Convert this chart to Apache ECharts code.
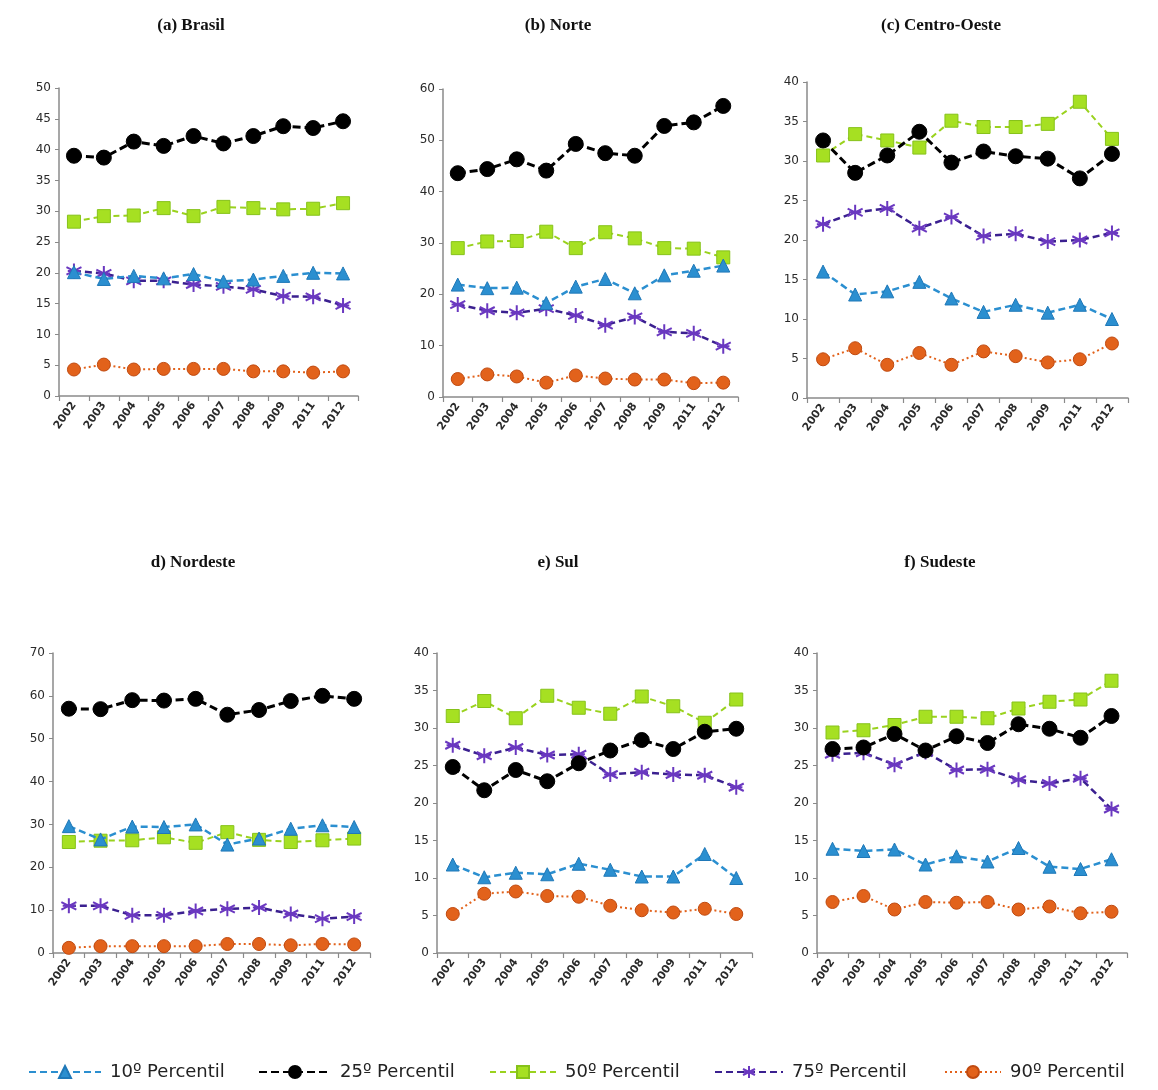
<!DOCTYPE html>
<html>
<head>
<meta charset="utf-8">
<script src="https://cdn.jsdelivr.net/npm/echarts@6/dist/echarts.min.js"></script>
<style>
  html, body { margin: 0; padding: 0; background: #fff; }
  #chart { width: 1158px; height: 1090px; }
</style>
</head>
<body>
<div id="chart"></div>
<script>
// Years on the horizontal axis (2010 is not in the survey)
const years = ['2002', '2003', '2004', '2005', '2006', '2007', '2008', '2009', '2011', '2012'];

// Percentile names
const seriesNames = ['10º Percentil', '25º Percentil', '50º Percentil', '75º Percentil', '90º Percentil'];

// (a) Brasil
const brasilP10 = [20.1, 19.0, 19.5, 19.1, 19.8, 18.6, 18.9, 19.5, 20.0, 19.9];
const brasilP25 = [39.0, 38.7, 41.3, 40.6, 42.2, 41.0, 42.2, 43.8, 43.5, 44.6];
const brasilP50 = [28.3, 29.2, 29.3, 30.5, 29.2, 30.7, 30.5, 30.3, 30.4, 31.3];
const brasilP75 = [20.3, 19.9, 18.7, 18.7, 18.1, 17.8, 17.3, 16.2, 16.1, 14.7];
const brasilP90 = [4.3, 5.1, 4.3, 4.4, 4.4, 4.4, 4.0, 4.0, 3.8, 4.0];

// (b) Norte
const norteP10 = [21.9, 21.2, 21.3, 18.3, 21.5, 23.0, 20.2, 23.7, 24.6, 25.6];
const norteP25 = [43.6, 44.4, 46.3, 44.1, 49.3, 47.5, 47.0, 52.8, 53.5, 56.7];
const norteP50 = [29.0, 30.3, 30.4, 32.2, 29.0, 32.1, 30.9, 29.0, 28.9, 27.2];
const norteP75 = [18.0, 16.8, 16.4, 17.2, 15.9, 14.0, 15.6, 12.7, 12.4, 9.9];
const norteP90 = [3.5, 4.4, 4.0, 2.8, 4.2, 3.6, 3.4, 3.4, 2.7, 2.8];

// (c) Centro-Oeste
const centroP10 = [16.0, 13.1, 13.5, 14.7, 12.6, 10.9, 11.8, 10.8, 11.8, 10.0];
const centroP25 = [32.6, 28.5, 30.7, 33.7, 29.8, 31.2, 30.6, 30.3, 27.8, 30.9];
const centroP50 = [30.7, 33.4, 32.6, 31.7, 35.1, 34.3, 34.3, 34.7, 37.5, 32.8];
const centroP75 = [22.0, 23.5, 24.0, 21.5, 22.9, 20.5, 20.8, 19.8, 20.0, 20.9];
const centroP90 = [4.9, 6.3, 4.2, 5.7, 4.2, 5.9, 5.3, 4.5, 4.9, 6.9];

// d) Nordeste
const nordesteP10 = [29.6, 26.5, 29.5, 29.4, 30.0, 25.3, 26.7, 29.0, 29.8, 29.4];
const nordesteP25 = [57.0, 56.9, 59.0, 58.9, 59.3, 55.6, 56.7, 58.8, 60.0, 59.3];
const nordesteP50 = [25.9, 26.2, 26.3, 27.0, 25.7, 28.2, 26.4, 25.9, 26.3, 26.7];
const nordesteP75 = [11.0, 11.0, 8.8, 8.8, 9.8, 10.3, 10.6, 9.1, 8.0, 8.5];
const nordesteP90 = [1.2, 1.6, 1.6, 1.6, 1.6, 2.1, 2.1, 1.8, 2.1, 2.0];

// e) Sul
const sulP10 = [11.8, 10.1, 10.7, 10.5, 11.9, 11.1, 10.2, 10.2, 13.2, 10.0];
const sulP25 = [24.8, 21.7, 24.4, 22.9, 25.3, 27.0, 28.4, 27.2, 29.5, 29.9];
const sulP50 = [31.6, 33.6, 31.3, 34.3, 32.7, 31.9, 34.2, 32.9, 30.7, 33.8];
const sulP75 = [27.7, 26.3, 27.4, 26.4, 26.5, 23.8, 24.1, 23.8, 23.7, 22.1];
const sulP90 = [5.2, 7.9, 8.2, 7.6, 7.5, 6.3, 5.7, 5.4, 5.9, 5.2];

// f) Sudeste
const sudesteP10 = [13.9, 13.6, 13.8, 11.8, 12.9, 12.2, 14.0, 11.5, 11.2, 12.5];
const sudesteP25 = [27.2, 27.4, 29.2, 27.0, 28.9, 28.0, 30.5, 29.9, 28.7, 31.6];
const sudesteP50 = [29.4, 29.7, 30.4, 31.5, 31.5, 31.3, 32.6, 33.5, 33.8, 36.3];
const sudesteP75 = [26.5, 26.7, 25.1, 26.8, 24.4, 24.5, 23.1, 22.6, 23.3, 19.2];
const sudesteP90 = [6.8, 7.6, 5.8, 6.8, 6.7, 6.8, 5.8, 6.2, 5.3, 5.5];

// Panel titles and y-axis ranges
const panelTitles = ['(a) Brasil', '(b) Norte', '(c) Centro-Oeste', 'd) Nordeste', 'e) Sul', 'f) Sudeste'];
const yMax = [50, 60, 40, 70, 40, 40];
const yStep = [5, 10, 5, 10, 5, 5];

const panelData = [
  [brasilP10, brasilP25, brasilP50, brasilP75, brasilP90],
  [norteP10, norteP25, norteP50, norteP75, norteP90],
  [centroP10, centroP25, centroP50, centroP75, centroP90],
  [nordesteP10, nordesteP25, nordesteP50, nordesteP75, nordesteP90],
  [sulP10, sulP25, sulP50, sulP75, sulP90],
  [sudesteP10, sudesteP25, sudesteP50, sudesteP75, sudesteP90]
];

// Plot rectangles for the six panels
const grids = [
  { left: 59,  top: 88,  width: 299, height: 308 },
  { left: 443, top: 89,  width: 295, height: 308 },
  { left: 807, top: 82,  width: 321, height: 316 },
  { left: 53,  top: 653, width: 317, height: 300 },
  { left: 437, top: 653, width: 315, height: 300 },
  { left: 817, top: 653, width: 310, height: 300 }
];
const titlePos = [
  { x: 186, y: 21 }, { x: 553, y: 21 }, { x: 936, y: 21 },
  { x: 188, y: 558 }, { x: 553, y: 558 }, { x: 935, y: 558 }
];

const asterisk = 'path://M10,0L10,20M1.5,5L18.5,15M1.5,15L18.5,5M3,10L17,10';

// Visual style of each percentile line
const styles = [
  { symbol: 'triangle', size: 13, color: '#2b8fd0', border: '#1f78b8', line: '#2b8fd0', width: 2.5, type: [7, 4] },
  { symbol: 'circle',   size: 15, color: '#000000', border: '#000000', line: '#000000', width: 3,   type: [8, 4] },
  { symbol: 'rect',     size: 13, color: '#a6e022', border: '#86c21a', line: '#9ad21e', width: 2,   type: [6, 4] },
  { symbol: asterisk,   size: 15, color: '#7a45d0', border: '#6a38c0', line: '#3b2090', width: 2.5, type: [7, 4] },
  { symbol: 'circle',   size: 13, color: '#e2621b', border: '#c04a10', line: '#e2621b', width: 2,   type: [2, 3] }
];

const axisFont = 'DejaVu Sans';

const option = {
  animation: false,
  backgroundColor: '#ffffff',
  title: panelTitles.map((t, i) => ({
    text: t,
    left: titlePos[i].x,
    top: titlePos[i].y,
    textAlign: 'center',
    textVerticalAlign: 'middle',
    textStyle: { fontFamily: 'Liberation Serif', fontWeight: 'bold', fontSize: 17, color: '#111' }
  })),
  grid: grids.map(g => Object.assign({ containLabel: false }, g)),
  xAxis: grids.map((g, i) => ({
    type: 'category',
    gridIndex: i,
    data: years,
    boundaryGap: true,
    axisLine: { lineStyle: { color: '#8a8a8a', width: 1.5 } },
    axisTick: { show: true, length: 5, lineStyle: { color: '#8a8a8a', width: 1.2 } },
    axisLabel: { rotate: 55, fontSize: 11, fontWeight: 'bold', fontFamily: axisFont, color: '#2a2a2a', margin: 7, interval: 0 },
    splitLine: { show: false }
  })),
  yAxis: grids.map((g, i) => ({
    type: 'value',
    gridIndex: i,
    min: 0,
    max: yMax[i],
    interval: yStep[i],
    axisLine: { show: true, lineStyle: { color: '#8a8a8a', width: 1.5 } },
    axisTick: { show: true, length: 4, lineStyle: { color: '#8a8a8a' } },
    axisLabel: { fontSize: 12, fontFamily: axisFont, color: '#2a2a2a', margin: 8 },
    splitLine: { show: false }
  })),
  legend: seriesNames.map((n, k) => ({
    data: [n],
    left: [28, 258, 489, 714, 944][k],
    top: 1063,
    itemWidth: [72, 72, 66, 68, 56][k],
    itemHeight: 15,
    itemGap: 0,
    padding: 0,
    selectedMode: false,
    textStyle: { fontFamily: 'DejaVu Sans', fontSize: 18, color: '#222', padding: [0, 0, 0, 4] }
  })),
  series: []
};

panelData.forEach((sets, i) => {
  sets.forEach((vals, k) => {
    const s = styles[k];
    option.series.push({
      name: seriesNames[k],
      type: 'line',
      xAxisIndex: i,
      yAxisIndex: i,
      data: vals,
      symbol: s.symbol,
      symbolSize: s.size,
      showAllSymbol: true,
      z: 10 - k,
      lineStyle: { color: s.line, width: s.width, type: s.type },
      itemStyle: { color: s.color, borderColor: s.border, borderWidth: k === 3 ? 2 : 1, opacity: 1 },
      emphasis: { disabled: true }
    });
  });
});

const chart = echarts.init(document.getElementById('chart'), null, { renderer: 'canvas' });
chart.setOption(option);
</script>
</body>
</html>
